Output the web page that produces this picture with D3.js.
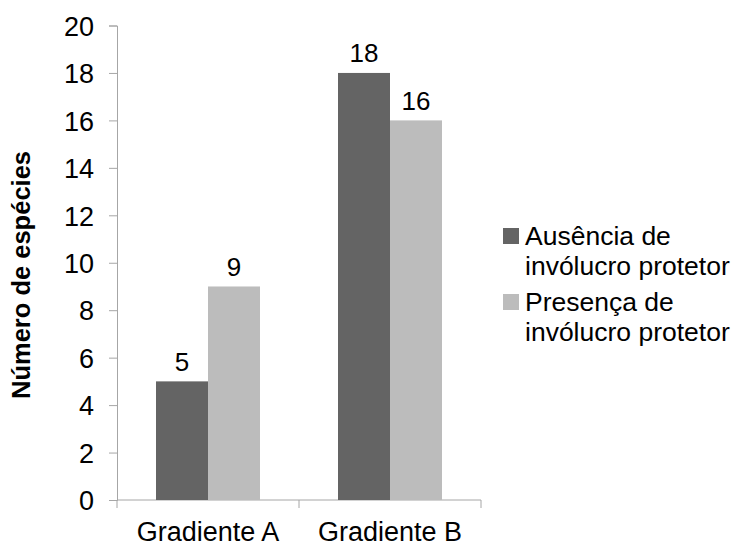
<!DOCTYPE html>
<html>
<head>
<meta charset="utf-8">
<script src="https://cdn.jsdelivr.net/npm/d3@7"></script>
<style>
  html, body { margin: 0; padding: 0; background: #fff; }
  svg text { font-family: "Liberation Sans", Arial, sans-serif; fill: #000; }
</style>
</head>
<body>
<svg id="chart" width="737" height="547"></svg>
<script>
// Species counts per gradient, split by presence of a protective envelope
const categories = ["Gradiente A", "Gradiente B"];
const seriesNames = ["Ausência de invólucro protetor", "Presença de invólucro protetor"];
const legendLines = [["Ausência de", "invólucro protetor"], ["Presença de", "invólucro protetor"]];
const ausencia = [5, 18];
const presenca = [9, 16];
const yTicks = [0, 2, 4, 6, 8, 10, 12, 14, 16, 18, 20];
const colors = ["#646464", "#bcbcbc"];

const seriesValues = [ausencia, presenca];
const svg = d3.select("#chart");
const axisColor = "#a6a6a6";

const x0 = d3.scaleBand().domain(categories).range([117, 481]).paddingInner(0).paddingOuter(0);
const x1 = d3.scaleBand().domain(d3.range(seriesNames.length)).range([0, x0.bandwidth()])
  .paddingInner(0).paddingOuter(0.75);
const y = d3.scaleLinear().domain([0, 20]).range([500, 25.5]);

// Y axis
const yAxis = svg.append("g").attr("transform", "translate(117,0)")
  .call(d3.axisLeft(y).tickValues(yTicks).tickSize(8).tickPadding(15).tickFormat(d3.format("d")));
yAxis.selectAll("path, line").attr("stroke", axisColor);
yAxis.selectAll("text").style("font-size", "27px").attr("dy", "0.36em");

// X axis line with tick marks at band boundaries
const xg = svg.append("g");
xg.append("line").attr("x1", x0.range()[0]).attr("x2", x0.range()[1])
  .attr("y1", y(0)).attr("y2", y(0)).attr("stroke", axisColor);
const bounds = categories.map(c => x0(c)).concat([x0(categories[categories.length - 1]) + x0.bandwidth()]);
xg.selectAll("line.tk").data(bounds).join("line").attr("class", "tk")
  .attr("x1", d => d).attr("x2", d => d).attr("y1", y(0)).attr("y2", y(0) + 8)
  .attr("stroke", axisColor);
xg.selectAll("text").data(categories).join("text")
  .attr("x", d => x0(d) + x0.bandwidth() / 2).attr("y", 540.5)
  .attr("text-anchor", "middle").style("font-size", "27px").text(d => d);

// Bars
const groups = svg.append("g").selectAll("g").data(categories).join("g")
  .attr("transform", d => `translate(${x0(d)},0)`);
groups.selectAll("rect").data((c, ci) => seriesValues.map((vals, si) => ({ si, v: vals[ci] })))
  .join("rect")
  .attr("x", d => x1(d.si)).attr("width", x1.bandwidth())
  .attr("y", d => y(d.v)).attr("height", d => y(0) - y(d.v))
  .attr("fill", d => colors[d.si]);
groups.selectAll("text").data((c, ci) => seriesValues.map((vals, si) => ({ si, v: vals[ci] })))
  .join("text")
  .attr("x", d => x1(d.si) + x1.bandwidth() / 2).attr("y", d => y(d.v) - 10.5)
  .attr("text-anchor", "middle").style("font-size", "26px").text(d => d.v);

// Y axis title
svg.append("text")
  .attr("transform", "translate(30,275) rotate(-90)")
  .attr("text-anchor", "middle").style("font-size", "25.5px").style("font-weight", "bold")
  .text("Número de espécies");

// Legend
const legend = svg.append("g").selectAll("g").data(seriesNames).join("g")
  .attr("transform", (d, i) => `translate(503,${245 + i * 66})`);
legend.append("rect").attr("x", 0).attr("y", -17).attr("width", 16).attr("height", 16)
  .attr("fill", (d, i) => colors[i]);
legend.append("text").attr("x", 22).attr("y", 0).style("font-size", "26.5px")
  .selectAll("tspan").data((d, i) => legendLines[i]).join("tspan")
  .attr("x", 22).attr("dy", (d, j) => j === 0 ? 0 : 30).text(d => d);
</script>
</body>
</html>
